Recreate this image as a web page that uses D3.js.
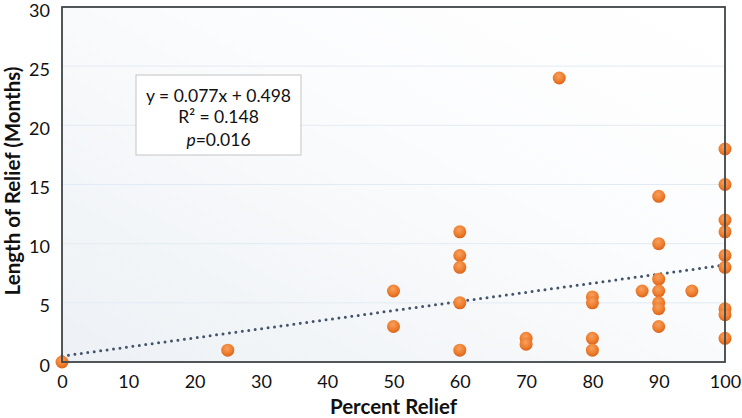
<!DOCTYPE html>
<html><head><meta charset="utf-8">
<script src="https://cdn.jsdelivr.net/npm/d3@7"></script>
<style>body{margin:0;background:#fff;} svg{display:block;}</style>
</head><body>
<svg id="c" width="742" height="418"></svg>
<script>
const percentRelief = [0,25,50,50,60,60,60,60,60,70,70,75,80,80,80,80,87.5,90,90,90,90,90,90,90,95,100,100,100,100,100,100,100,100,100];
const monthsRelief  = [0,1,6,3,11,9,8,5,1,2,1.5,24,5.5,5,2,1,6,14,10,7,6,5,4.5,3,6,18,15,12,11,9,8,4.5,4,2];
const xTicks = [0,10,20,30,40,50,60,70,80,90,100];
const yTicks = [0,5,10,15,20,25,30];
const trendSlope = 0.077, trendIntercept = 0.498;
const annotation = ["y = 0.077x + 0.498", "R² = 0.148", "p=0.016"];

const svg = d3.select("#c");
const m = {l:62, t:7, r:725, b:362};
const x = d3.scaleLinear().domain([0,100]).range([m.l, m.r]);
const y = d3.scaleLinear().domain([0,30]).range([m.b, m.t]);
const font = "Lato, 'Open Sans', sans-serif";

const defs = svg.append("defs");
const bg = defs.append("linearGradient").attr("id","bg").attr("x1","1").attr("y1","0").attr("x2","0").attr("y2","1");
bg.append("stop").attr("offset","0").attr("stop-color","#ffffff");
bg.append("stop").attr("offset","0.4").attr("stop-color","#fbfcfd");
bg.append("stop").attr("offset","1").attr("stop-color","#edf1f5");
const mk = defs.append("radialGradient").attr("id","mk").attr("cx","0.45").attr("cy","0.35").attr("r","0.65");
mk.append("stop").attr("offset","0").attr("stop-color","#f7a060");
mk.append("stop").attr("offset","0.6").attr("stop-color","#ef7f2e");
mk.append("stop").attr("offset","1").attr("stop-color","#d9631a");

svg.append("rect").attr("x",m.l).attr("y",m.t).attr("width",m.r-m.l).attr("height",m.b-m.t).attr("fill","url(#bg)");

// gridlines
svg.append("g").selectAll("line").data(yTicks.filter(d=>d>0&&d<30)).join("line")
  .attr("x1",m.l).attr("x2",m.r).attr("y1",d=>y(d)).attr("y2",d=>y(d))
  .attr("stroke","#e2ebf4").attr("stroke-width",1);

// annotation box
const bx = 136, by = 75, bw = 165, bh = 80;
svg.append("rect").attr("x",bx).attr("y",by).attr("width",bw).attr("height",bh)
  .attr("fill","#fff").attr("stroke","#c4c4c4").attr("stroke-width",1);
const at = svg.append("g").attr("font-family",font).attr("font-size",17.5).attr("fill","#111").attr("text-anchor","middle");
at.append("text").attr("x",bx+bw/2).attr("y",by+27).text(annotation[0]);
at.append("text").attr("x",bx+bw/2).attr("y",by+48).text(annotation[1]);
const t3 = at.append("text").attr("x",bx+bw/2).attr("y",by+71);
t3.append("tspan").attr("font-style","italic").text(annotation[2].slice(0,1));
t3.append("tspan").text(annotation[2].slice(1));

// trend line
svg.append("line").attr("x1",x(0)).attr("y1",y(trendIntercept)).attr("x2",x(100)).attr("y2",y(trendSlope*100+trendIntercept))
  .attr("stroke","#44546a").attr("stroke-width",3).attr("stroke-dasharray","0 6.5").attr("stroke-linecap","round");

// points
svg.append("g").selectAll("circle").data(percentRelief.map((p,i)=>[p,monthsRelief[i]])).join("circle")
  .attr("cx",d=>x(d[0])).attr("cy",d=>y(d[1])).attr("r",6.5).attr("fill","url(#mk)");

// frame
svg.append("rect").attr("x",m.l).attr("y",m.t).attr("width",m.r-m.l).attr("height",m.b-m.t)
  .attr("fill","none").attr("stroke","#3f4548").attr("stroke-width",1.8);

// axes
const xa = svg.append("g").attr("transform",`translate(0,${m.b})`)
  .call(d3.axisBottom(x).tickValues(xTicks).tickSize(0).tickPadding(13));
const ya = svg.append("g").attr("transform",`translate(${m.l},0)`)
  .call(d3.axisLeft(y).tickValues(yTicks).tickSize(0).tickPadding(12));
[xa,ya].forEach(a=>{a.select(".domain").remove(); a.selectAll("text").attr("font-family",font).attr("font-size",18).attr("fill","#111");});
ya.selectAll("text").attr("dy","0.5em");

svg.append("text").attr("x",(m.l+m.r)/2).attr("y",414).attr("text-anchor","middle")
  .attr("font-family",font).attr("font-weight","bold").attr("font-size",20.5).attr("fill","#111").text("Percent Relief");
svg.append("text").attr("transform",`translate(20,181) rotate(-90)`).attr("text-anchor","middle")
  .attr("font-family",font).attr("font-weight","bold").attr("font-size",20.5).attr("fill","#111").text("Length of Relief (Months)");
</script>
</body></html>
